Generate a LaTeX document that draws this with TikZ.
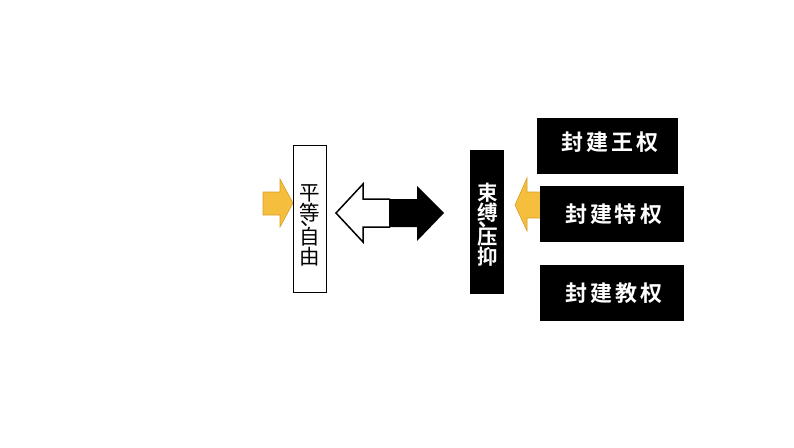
\documentclass[tikz,border=0pt]{standalone}
\usepackage{fontspec}
\newfontfamily\cjk{Noto Sans CJK SC}
\newfontfamily\cjkb{Noto Sans CJK SC Bold}
\definecolor{gold}{RGB}{245,190,60}
\definecolor{golddark}{RGB}{215,160,40}
\newcommand\chgap{\hspace{3pt}}
\newcommand\vcell[1]{\hbox to 22pt{\hss\smash{#1}\hss}}
\newcommand\vcomma[1]{\hbox to 22pt{\hskip 2pt\hss\smash{#1}\hss}}
% five characters stacked: A, B, comma, D, E
\newcommand\vstackfive[5]{\vbox{\offinterlineskip
  \vcell{#1}\kern20pt\vcell{#2}\kern5.5pt\vcomma{#3}\kern18.5pt\vcell{#4}\kern20pt\vcell{#5}}}
\begin{document}
\begin{tikzpicture}[x=1pt,y=-1pt,
  yarrow/.style={fill=gold,draw=golddark,line width=0.6pt},
  blackbox/.style={fill=black,draw=black,inner sep=0pt},
  whitebox/.style={fill=white,draw=black,line width=1pt,inner sep=0pt},
  vtext/.style={font=\cjk\fontsize{20.5}{20}\selectfont,inner sep=0pt,anchor=base},
  vtextb/.style={vtext,font=\cjkb\fontsize{20.5}{20}\selectfont,text=white},
  htext/.style={font=\cjkb\fontsize{22}{24}\selectfont,text=white,inner sep=0pt}]
\useasboundingbox (0,0) rectangle (794,447);
% left yellow arrow
\draw[yarrow] (263,192) -- (280,192) -- (280,179) -- (293,203) -- (280,227) -- (280,215) -- (263,215) -- cycle;
% left box
\node[whitebox,minimum width=33pt,minimum height=147pt] (lbox) at (310,219) {};
\node[vtext] (ltext) at (310,264) {\vstackfive{平}{等}{、}{自}{由}};
% double arrow: white left half
\draw[fill=white,draw=black,line width=1.5pt] (390,199) -- (363,199) -- (363,184) -- (336,213) -- (363,242) -- (363,227) -- (390,227);
% black right half
\fill[black] (389,199) -- (417,199) -- (417,186) -- (444,213) -- (417,241) -- (417,227) -- (389,227) -- cycle;
% middle black box
\node[blackbox,minimum width=33pt,minimum height=143pt] (mbox) at (486.5,221.5) {};
\node[vtextb] (mtext) at (487.5,264.5) {\vstackfive{束}{缚}{、}{压}{抑}};
% right yellow arrow
\draw[yarrow] (545,192) -- (527,192) -- (527,178) -- (515,205) -- (527,231) -- (527,218) -- (545,218) -- cycle;
% right boxes
\node[blackbox,minimum width=140pt,minimum height=55pt] (b1) at (607,145.5) {};
\node[htext] (t1) at (610,142.5) {封\chgap 建\chgap 王\chgap 权};
\node[blackbox,minimum width=143pt,minimum height=55pt] (b2) at (611.5,213.5) {};
\node[htext] (t2) at (613.5,214) {封\chgap 建\chgap 特\chgap 权};
\node[blackbox,minimum width=143pt,minimum height=55pt] (b3) at (611.5,292.5) {};
\node[htext] (t3) at (614,293.5) {封\chgap 建\chgap 教\chgap 权};
\end{tikzpicture}
\end{document}
